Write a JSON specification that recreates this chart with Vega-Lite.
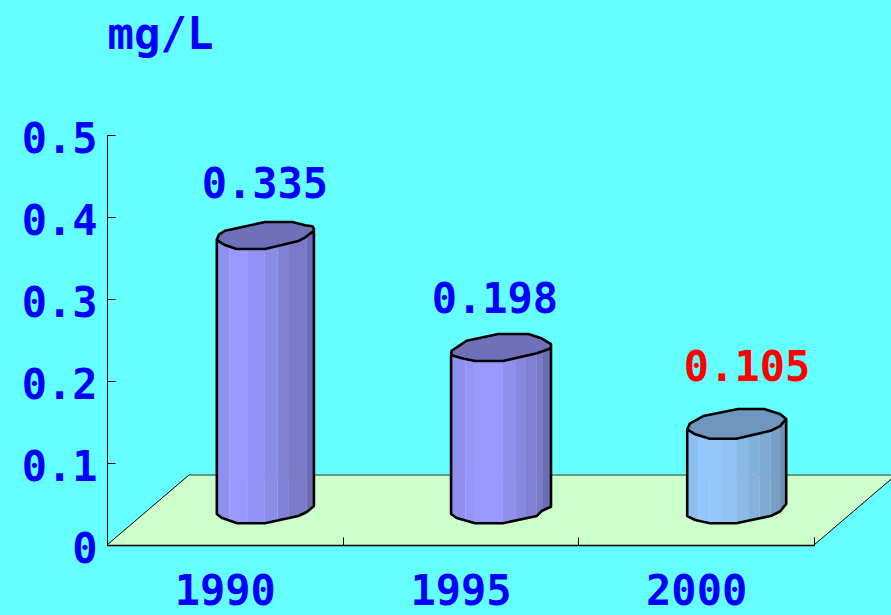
{"$schema":"https://vega.github.io/schema/vega-lite/v6.json","width":707,"height":410,"autosize":"none","padding":{"left":107,"top":135,"right":77,"bottom":70},"background":"#66FFFF","config":{"view":{"stroke":null},"font":"DejaVu Sans Mono"},
"datasets":{
"floor":[{"depth":0,"left":1987.5,"right":2002.5},{"depth":0.0854,"left":1989.24,"right":2004.24}],
"back":[{"year":1989.24,"v":0.0854},{"year":2004.24,"v":0.0854}],
"edges":[{"edge":"L","year":1987.5,"v":0},{"edge":"L","year":1989.24,"v":0.0854},{"edge":"R","year":2002.5,"v":0},{"edge":"R","year":2004.24,"v":0.0854}],
"ticks":[{"year":1990,"v":0},{"year":1995,"v":0},{"year":2000,"v":0}],
"strips":[
{"s":"a1","year":1989.83,"low":0.0378,"high":0.372},{"s":"a1","year":1989.93,"low":0.0333,"high":0.3679},{"s":"a1","year":1990.1,"low":0.0299,"high":0.364},
{"s":"a2","year":1990.1,"low":0.0299,"high":0.364},{"s":"a2","year":1990.26,"low":0.0265,"high":0.361},{"s":"a2","year":1990.49,"low":0.0265,"high":0.361},
{"s":"a3","year":1990.49,"low":0.0265,"high":0.361},{"s":"a3","year":1990.85,"low":0.0265,"high":0.361},
{"s":"a4","year":1990.85,"low":0.0265,"high":0.361},{"s":"a4","year":1991.12,"low":0.0299,"high":0.3648},
{"s":"a5","year":1991.12,"low":0.0299,"high":0.3648},{"s":"a5","year":1991.36,"low":0.033,"high":0.368},
{"s":"a6","year":1991.36,"low":0.033,"high":0.368},{"s":"a6","year":1991.56,"low":0.0354,"high":0.3707},{"s":"a6","year":1991.74,"low":0.0402,"high":0.376},
{"s":"a7","year":1991.74,"low":0.0402,"high":0.376},{"s":"a7","year":1991.89,"low":0.0476,"high":0.3833},
{"s":"b1","year":1994.8,"low":0.0378,"high":0.2317},{"s":"b1","year":1994.92,"low":0.0329,"high":0.2294},{"s":"b1","year":1995.1,"low":0.0298,"high":0.2266},
{"s":"b2","year":1995.1,"low":0.0298,"high":0.2266},{"s":"b2","year":1995.31,"low":0.0265,"high":0.2244},
{"s":"b3","year":1995.31,"low":0.0265,"high":0.2244},{"s":"b3","year":1995.9,"low":0.0265,"high":0.2244},
{"s":"b4","year":1995.9,"low":0.0265,"high":0.2244},{"s":"b4","year":1996.16,"low":0.0296,"high":0.2278},
{"s":"b5","year":1996.16,"low":0.0296,"high":0.2278},{"s":"b5","year":1996.39,"low":0.0326,"high":0.2309},
{"s":"b6","year":1996.39,"low":0.0326,"high":0.2309},{"s":"b6","year":1996.62,"low":0.0354,"high":0.2338},
{"s":"b7","year":1996.62,"low":0.0354,"high":0.2338},{"s":"b7","year":1996.75,"low":0.0409,"high":0.2363},
{"s":"b8","year":1996.75,"low":0.0409,"high":0.2363},{"s":"b8","year":1996.92,"low":0.0467,"high":0.2399},
{"s":"c1","year":1999.81,"low":0.0354,"high":0.1411},{"s":"c1","year":1999.98,"low":0.0305,"high":0.135},{"s":"c1","year":2000.05,"low":0.0293,"high":0.1338},
{"s":"c2","year":2000.05,"low":0.0293,"high":0.1338},{"s":"c2","year":2000.29,"low":0.0265,"high":0.1296},
{"s":"c3","year":2000.29,"low":0.0265,"high":0.1296},{"s":"c3","year":2000.53,"low":0.0265,"high":0.1296},
{"s":"c4","year":2000.53,"low":0.0265,"high":0.1296},{"s":"c4","year":2000.85,"low":0.0265,"high":0.1296},
{"s":"c5","year":2000.85,"low":0.0265,"high":0.1296},{"s":"c5","year":2001.12,"low":0.0301,"high":0.1333},
{"s":"c6","year":2001.12,"low":0.0301,"high":0.1333},{"s":"c6","year":2001.34,"low":0.0329,"high":0.1361},
{"s":"c7","year":2001.34,"low":0.0329,"high":0.1361},{"s":"c7","year":2001.58,"low":0.0354,"high":0.1393},
{"s":"c8","year":2001.58,"low":0.0354,"high":0.1393},{"s":"c8","year":2001.78,"low":0.0409,"high":0.1449},
{"s":"c9","year":2001.78,"low":0.0409,"high":0.1449},{"s":"c9","year":2001.91,"low":0.05,"high":0.1537}
],
"caps":[
{"bar":"1990","year":1989.83,"top":0.3726,"bottom":0.3726},{"bar":"1990","year":1989.88,"top":0.3789,"bottom":0.3701},{"bar":"1990","year":1989.93,"top":0.3805,"bottom":0.3679},{"bar":"1990","year":1990.0,"top":0.3833,"bottom":0.3659},{"bar":"1990","year":1990.25,"top":0.3863,"bottom":0.361},{"bar":"1990","year":1990.85,"top":0.3939,"bottom":0.361},{"bar":"1990","year":1991.43,"top":0.3939,"bottom":0.369},{"bar":"1990","year":1991.56,"top":0.392,"bottom":0.3707},{"bar":"1990","year":1991.7,"top":0.3899,"bottom":0.3749},{"bar":"1990","year":1991.86,"top":0.3887,"bottom":0.3817},{"bar":"1990","year":1991.89,"top":0.3854,"bottom":0.3833},
{"bar":"1995","year":1994.8,"top":0.2317,"bottom":0.2317},{"bar":"1995","year":1994.81,"top":0.2369,"bottom":0.231},{"bar":"1995","year":1994.92,"top":0.2411,"bottom":0.2294},{"bar":"1995","year":1995.13,"top":0.2491,"bottom":0.2261},{"bar":"1995","year":1995.31,"top":0.2512,"bottom":0.2244},{"bar":"1995","year":1995.8,"top":0.2573,"bottom":0.2244},{"bar":"1995","year":1995.9,"top":0.2573,"bottom":0.2244},{"bar":"1995","year":1996.44,"top":0.2573,"bottom":0.2317},{"bar":"1995","year":1996.62,"top":0.254,"bottom":0.2338},{"bar":"1995","year":1996.72,"top":0.2521,"bottom":0.2359},{"bar":"1995","year":1996.92,"top":0.2451,"bottom":0.2399},
{"bar":"2000","year":1999.81,"top":0.1411,"bottom":0.1411},{"bar":"2000","year":1999.87,"top":0.1484,"bottom":0.139},{"bar":"2000","year":1999.98,"top":0.1517,"bottom":0.135},{"bar":"2000","year":2000.15,"top":0.1573,"bottom":0.132},{"bar":"2000","year":2000.29,"top":0.1589,"bottom":0.1296},{"bar":"2000","year":2000.85,"top":0.1654,"bottom":0.1296},{"bar":"2000","year":2000.89,"top":0.1659,"bottom":0.1302},{"bar":"2000","year":2001.44,"top":0.1659,"bottom":0.1372},{"bar":"2000","year":2001.58,"top":0.1634,"bottom":0.1393},{"bar":"2000","year":2001.78,"top":0.1598,"bottom":0.1449},{"bar":"2000","year":2001.91,"top":0.1537,"bottom":0.1537}
],
"outline":[
{"bar":"1990","n":1,"year":1989.83,"v":0.3726},{"bar":"1990","n":2,"year":1989.88,"v":0.3789},{"bar":"1990","n":3,"year":1989.93,"v":0.3805},{"bar":"1990","n":4,"year":1990.0,"v":0.3833},{"bar":"1990","n":5,"year":1990.25,"v":0.3863},{"bar":"1990","n":6,"year":1990.85,"v":0.3939},{"bar":"1990","n":7,"year":1991.43,"v":0.3939},{"bar":"1990","n":8,"year":1991.56,"v":0.392},{"bar":"1990","n":9,"year":1991.7,"v":0.3899},{"bar":"1990","n":10,"year":1991.86,"v":0.3887},{"bar":"1990","n":11,"year":1991.89,"v":0.3854},{"bar":"1990","n":12,"year":1991.89,"v":0.3833},{"bar":"1990","n":13,"year":1991.7,"v":0.3749},{"bar":"1990","n":14,"year":1991.56,"v":0.3707},{"bar":"1990","n":15,"year":1990.85,"v":0.361},{"bar":"1990","n":16,"year":1990.25,"v":0.361},{"bar":"1990","n":17,"year":1990.0,"v":0.3659},{"bar":"1990","n":18,"year":1989.88,"v":0.3701},{"bar":"1990","n":19,"year":1989.83,"v":0.3726},{"bar":"1990","n":20,"year":1989.83,"v":0.0378},{"bar":"1990","n":21,"year":1989.93,"v":0.0333},{"bar":"1990","n":22,"year":1990.26,"v":0.0265},{"bar":"1990","n":23,"year":1990.85,"v":0.0265},{"bar":"1990","n":24,"year":1991.56,"v":0.0354},{"bar":"1990","n":25,"year":1991.74,"v":0.0402},{"bar":"1990","n":26,"year":1991.89,"v":0.0476},{"bar":"1990","n":27,"year":1991.89,"v":0.3833},
{"bar":"1995","n":1,"year":1994.8,"v":0.2317},{"bar":"1995","n":2,"year":1994.81,"v":0.2369},{"bar":"1995","n":3,"year":1994.92,"v":0.2411},{"bar":"1995","n":4,"year":1995.13,"v":0.2491},{"bar":"1995","n":5,"year":1995.8,"v":0.2573},{"bar":"1995","n":6,"year":1996.44,"v":0.2573},{"bar":"1995","n":7,"year":1996.72,"v":0.2521},{"bar":"1995","n":8,"year":1996.92,"v":0.2451},{"bar":"1995","n":9,"year":1996.92,"v":0.2399},{"bar":"1995","n":10,"year":1996.62,"v":0.2338},{"bar":"1995","n":11,"year":1995.9,"v":0.2244},{"bar":"1995","n":12,"year":1995.31,"v":0.2244},{"bar":"1995","n":13,"year":1995.03,"v":0.2277},{"bar":"1995","n":14,"year":1994.8,"v":0.2317},{"bar":"1995","n":15,"year":1994.8,"v":0.0378},{"bar":"1995","n":16,"year":1994.92,"v":0.0329},{"bar":"1995","n":17,"year":1995.31,"v":0.0265},{"bar":"1995","n":18,"year":1995.9,"v":0.0265},{"bar":"1995","n":19,"year":1996.62,"v":0.0354},{"bar":"1995","n":20,"year":1996.72,"v":0.0414},{"bar":"1995","n":21,"year":1996.92,"v":0.0467},{"bar":"1995","n":22,"year":1996.92,"v":0.2399},
{"bar":"2000","n":1,"year":1999.81,"v":0.1411},{"bar":"2000","n":2,"year":1999.87,"v":0.1484},{"bar":"2000","n":3,"year":2000.15,"v":0.1573},{"bar":"2000","n":4,"year":2000.89,"v":0.1659},{"bar":"2000","n":5,"year":2001.44,"v":0.1659},{"bar":"2000","n":6,"year":2001.78,"v":0.1598},{"bar":"2000","n":7,"year":2001.91,"v":0.1537},{"bar":"2000","n":8,"year":2001.78,"v":0.1449},{"bar":"2000","n":9,"year":2001.58,"v":0.1393},{"bar":"2000","n":10,"year":2000.85,"v":0.1296},{"bar":"2000","n":11,"year":2000.29,"v":0.1296},{"bar":"2000","n":12,"year":1999.98,"v":0.135},{"bar":"2000","n":13,"year":1999.81,"v":0.1411},{"bar":"2000","n":14,"year":1999.81,"v":0.0354},{"bar":"2000","n":15,"year":1999.98,"v":0.0305},{"bar":"2000","n":16,"year":2000.29,"v":0.0265},{"bar":"2000","n":17,"year":2000.85,"v":0.0265},{"bar":"2000","n":18,"year":2001.58,"v":0.0354},{"bar":"2000","n":19,"year":2001.78,"v":0.0409},{"bar":"2000","n":20,"year":2001.91,"v":0.05},{"bar":"2000","n":21,"year":2001.91,"v":0.1537}
],
"labels":[{"year":1990.85,"v":0.4395,"text":"0.335","kind":"old"},{"year":1995.73,"v":0.2993,"text":"0.198","kind":"old"},{"year":2001.08,"v":0.2159,"text":"0.105","kind":"new"}]
},
"layer":[
{"data":{"name":"floor"},"mark":{"type":"area","orient":"horizontal","fill":"#CCFFCC"},
"encoding":{
"x":{"field":"left","type":"quantitative","scale":{"domain":[1987.5,2002.5],"zero":false,"nice":false},"axis":{"orient":"bottom","values":[1987.5,1992.5,1997.5,2002.5],"labels":false,"title":null,"grid":false,"tickSize":-8,"tickColor":"#000000","domainColor":"#000000","domainWidth":1.5,"zindex":1}},
"x2":{"field":"right"},
"y":{"field":"depth","type":"quantitative","scale":{"domain":[0,0.5],"nice":false},"axis":{"orient":"left","values":[0,0.1,0.2,0.3,0.4,0.5],"grid":false,"tickSize":-8,"tickColor":"#000000","domainColor":"#000000","zindex":1,"labelExpr":"datum.value==0?'0':format(datum.value,'.1f')","labelColor":"#0000FF","labelFontSize":42,"labelFontWeight":"bold","labelPadding":18,"labelOffset":4.5,"labelBound":false,"labelFlush":false,"labelOverlap":false,"title":"mg/L","titleAngle":0,"titleX":0,"titleY":-87,"titleAlign":"left","titleBaseline":"alphabetic","titleColor":"#0000FF","titleFontSize":44,"titleFontWeight":"bold"}}}},
{"data":{"name":"back"},"mark":{"type":"line","stroke":"#4A7A70","strokeWidth":1.5},"encoding":{"x":{"field":"year","type":"quantitative","axis":null},"y":{"field":"v","type":"quantitative","axis":null}}},
{"data":{"name":"edges"},"mark":{"type":"line","stroke":"#000000","strokeWidth":1},"encoding":{"x":{"field":"year","type":"quantitative","axis":null},"y":{"field":"v","type":"quantitative","axis":null},"detail":{"field":"edge"}}},
{"data":{"name":"ticks"},"mark":{"type":"point","opacity":0},"encoding":{"x":{"field":"year","type":"quantitative","axis":{"orient":"bottom","values":[1990,1995,2000],"format":"d","domain":false,"ticks":false,"grid":false,"title":null,"labelColor":"#0000FF","labelFontSize":42,"labelFontWeight":"bold","labelPadding":26,"labelOverlap":false,"labelFlush":false,"labelBound":false}},"y":{"field":"v","type":"quantitative","axis":null}}},
{"data":{"name":"strips"},"mark":{"type":"area","opacity":1},"encoding":{"x":{"field":"year","type":"quantitative","axis":null},"y":{"field":"low","type":"quantitative","axis":null},"y2":{"field":"high"},"fill":{"field":"s","type":"nominal","legend":null,"scale":{"domain":["a1","a2","a3","a4","a5","a6","a7","b1","b2","b3","b4","b5","b6","b7","b8","c1","c2","c3","c4","c5","c6","c7","c8","c9"],"range":["#8F8FF0","#9999FF","#9292F4","#8B8BE8","#8181D6","#7A7AC8","#6C6CB4","#8F8FF0","#9696FA","#9898FD","#8F8FEE","#8888E0","#8181D4","#7A7AC6","#6C6CB4","#8DBEF2","#93C6FA","#95C7FA","#91C2F3","#8BB9E8","#84B0DC","#7FA9D2","#799FC6","#6F92B4"]}}}},
{"data":{"name":"caps"},"mark":{"type":"area"},"encoding":{"x":{"field":"year","type":"quantitative","axis":null},"y":{"field":"top","type":"quantitative","axis":null},"y2":{"field":"bottom"},"fill":{"field":"bar","type":"nominal","legend":null,"scale":{"domain":["1990","1995","2000"],"range":["#7070B8","#7070B8","#6F97BD"]}}}},
{"data":{"name":"outline"},"mark":{"type":"line","stroke":"#000000","strokeWidth":2.6,"strokeJoin":"round"},"encoding":{"x":{"field":"year","type":"quantitative","axis":null},"y":{"field":"v","type":"quantitative","axis":null},"order":{"field":"n","type":"quantitative"},"detail":{"field":"bar"}}},
{"data":{"name":"labels"},"mark":{"type":"text","fontSize":42,"fontWeight":"bold","baseline":"middle","align":"center"},"encoding":{"x":{"field":"year","type":"quantitative","axis":null},"y":{"field":"v","type":"quantitative","axis":null},"text":{"field":"text"},"color":{"condition":{"test":"datum.kind=='new'","value":"#FF0000"},"value":"#0000FF"}}}
],
"resolve":{"axis":{"x":"independent","y":"independent"},"scale":{"fill":"independent"}}
}
